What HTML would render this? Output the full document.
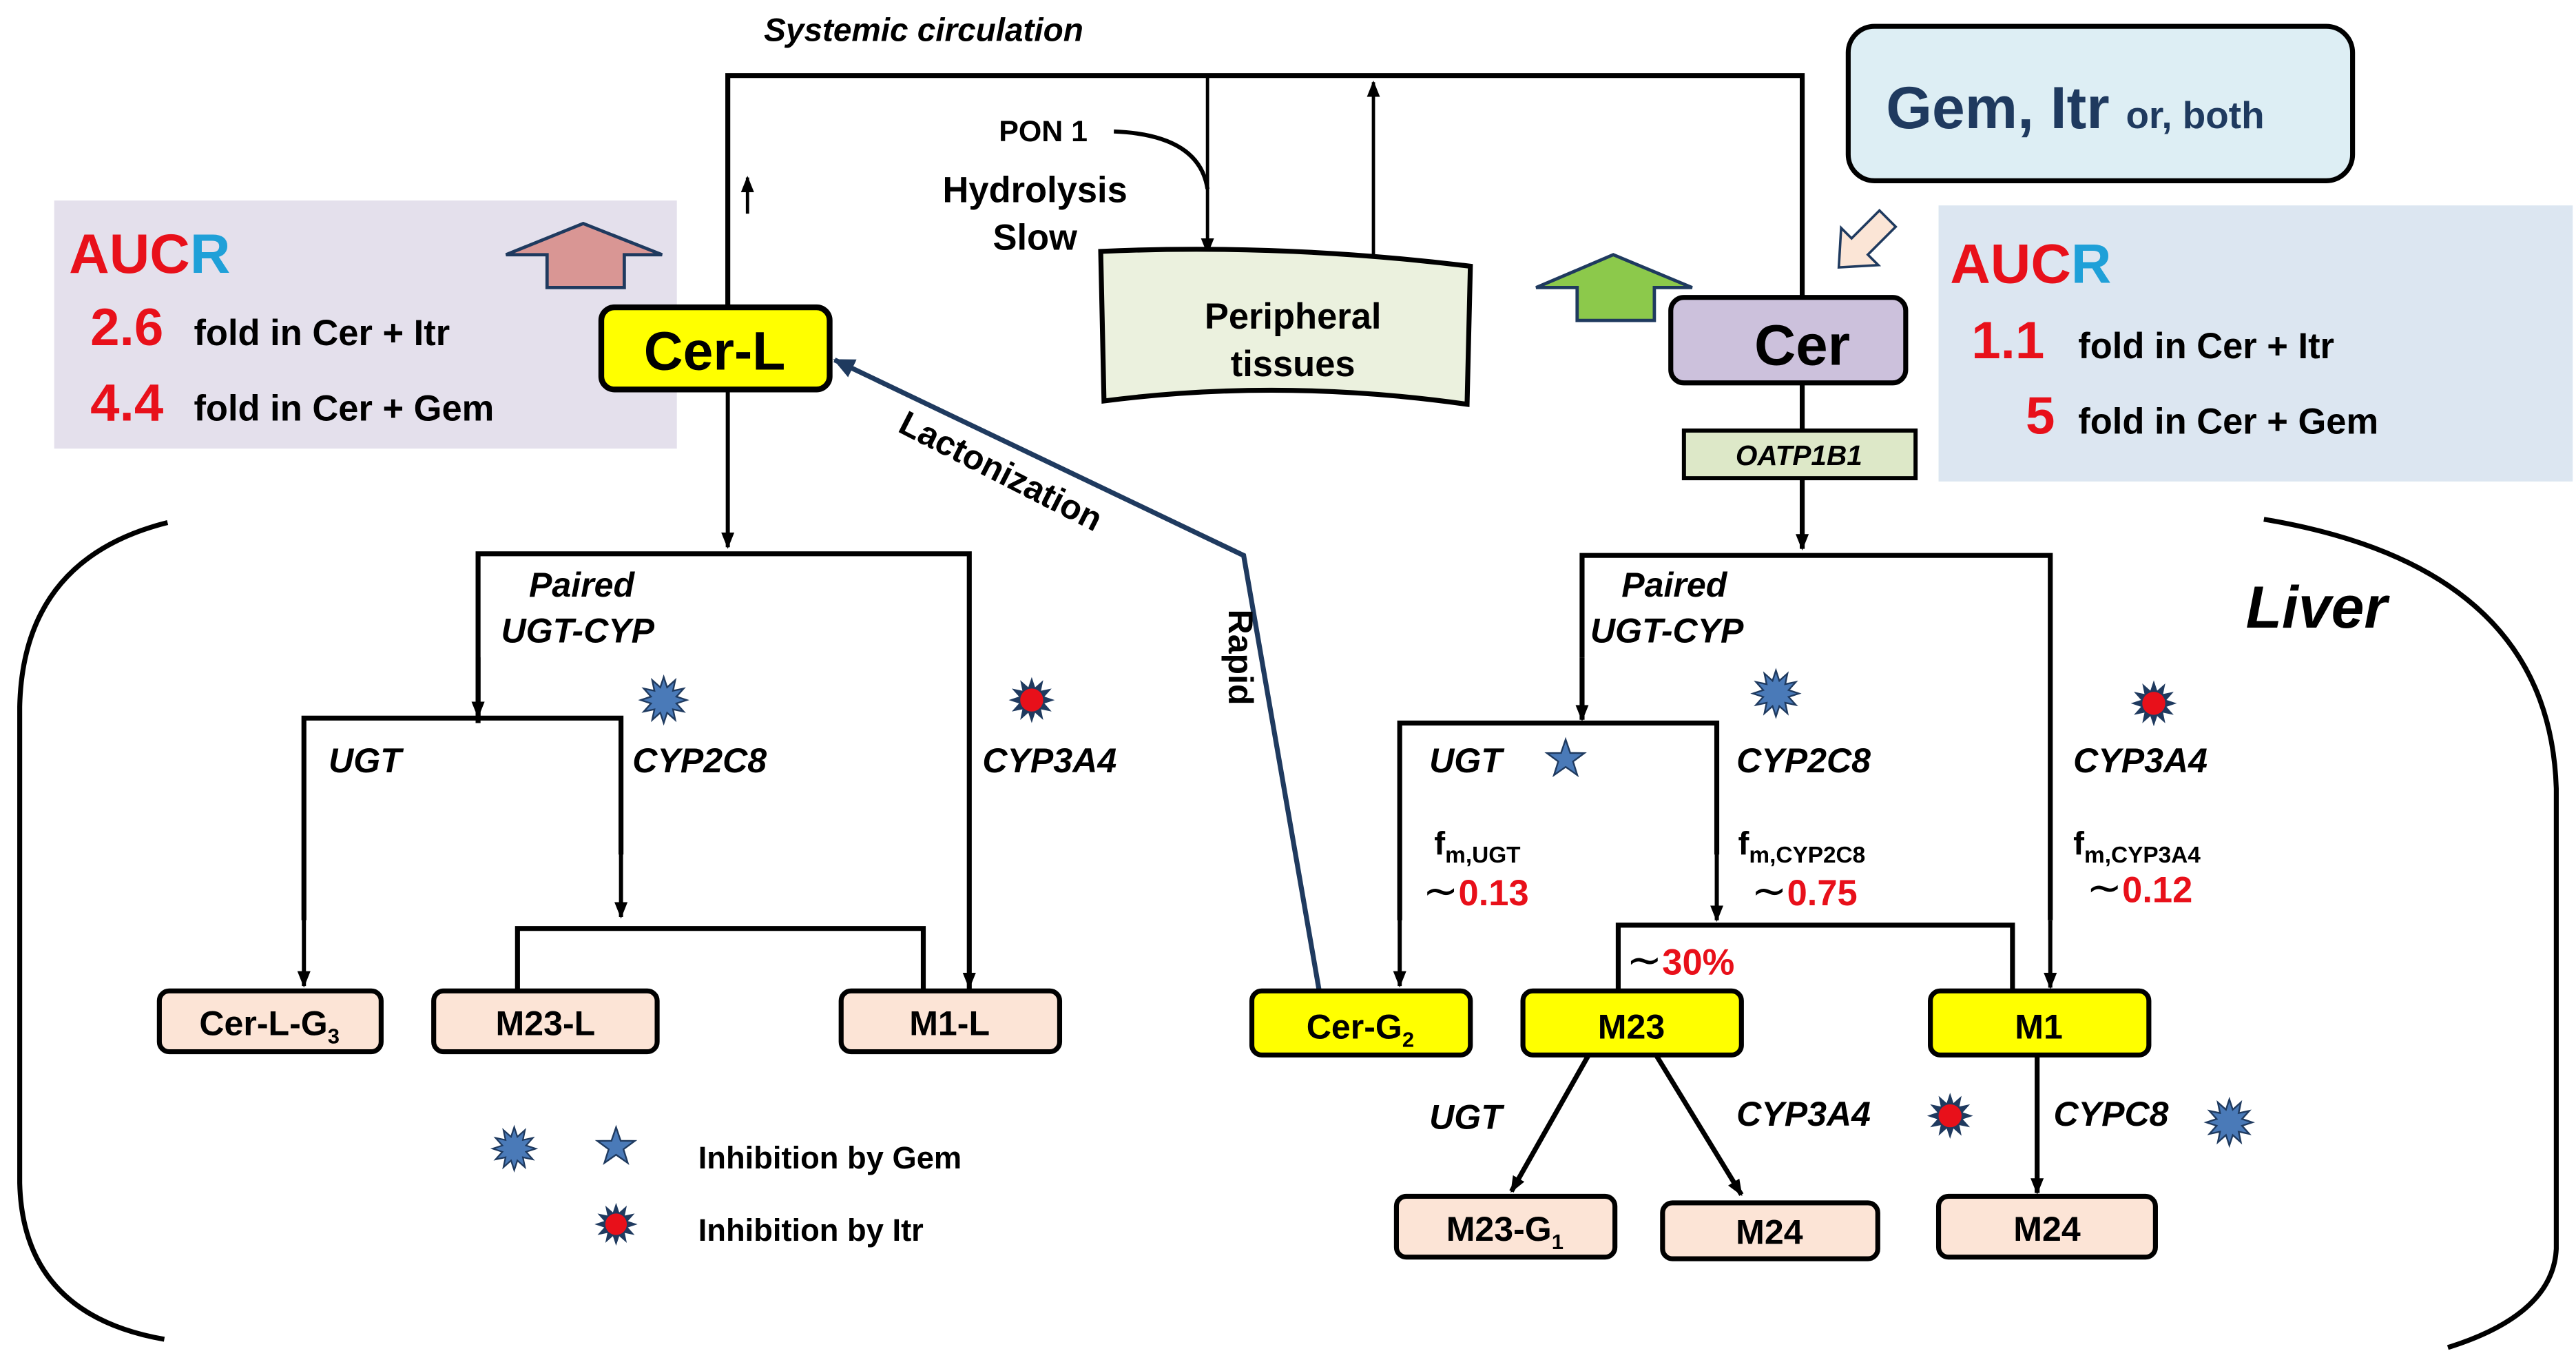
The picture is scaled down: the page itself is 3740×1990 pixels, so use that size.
<!DOCTYPE html>
<html><head><meta charset="utf-8"><style>
html,body{margin:0;padding:0;background:#fff}
svg{display:block}
text{font-family:"Liberation Sans",sans-serif;font-weight:bold}
.i{font-style:italic}
</style></head><body>
<svg width="3740" height="1990" viewBox="0 0 1568 834.3" xmlns="http://www.w3.org/2000/svg">
<defs>
<marker id="a" markerWidth="10" markerHeight="10" refX="9" refY="5" orient="auto" markerUnits="userSpaceOnUse"><path d="M0,1 L10,5 L0,9 Z" fill="#000"/></marker>
<marker id="b" markerWidth="14" markerHeight="14" refX="12" refY="7" orient="auto" markerUnits="userSpaceOnUse"><path d="M0,1 L13,7 L0,13 Z" fill="#1f3a5f"/></marker>
<symbol id="burst" viewBox="-15 -15 30 30" overflow="visible"><polygon points="14,0 7.73,2.07 12.12,7 5.66,5.66 7,12.12 2.07,7.73 0,14 -2.07,7.73 -7,12.12 -5.66,5.66 -12.12,7 -7.73,2.07 -14,0 -7.73,-2.07 -12.12,-7 -5.66,-5.66 -7,-12.12 -2.07,-7.73 0,-14 2.07,-7.73 7,-12.12 5.66,-5.66 12.12,-7 7.73,-2.07" fill="#4a7ab8" stroke="#1f3a5f" stroke-width="1"/></symbol>
<symbol id="rburst" viewBox="-15 -15 30 30" overflow="visible"><polygon points="14,0 7.73,2.07 12.12,7 5.66,5.66 7,12.12 2.07,7.73 0,14 -2.07,7.73 -7,12.12 -5.66,5.66 -12.12,7 -7.73,2.07 -14,0 -7.73,-2.07 -12.12,-7 -5.66,-5.66 -7,-12.12 -2.07,-7.73 0,-14 2.07,-7.73 7,-12.12 5.66,-5.66 12.12,-7 7.73,-2.07" fill="#1f3a5f"/><circle r="7" fill="#e8101a"/></symbol>
<symbol id="star" viewBox="-12 -12 24 24" overflow="visible"><polygon points="0,-12 2.8,-3.8 11.4,-3.7 4.5,1.4 7.1,9.7 0,4.7 -7.1,9.7 -4.5,1.4 -11.4,-3.7 -2.8,-3.8" fill="#4a7ab8" stroke="#1f3a5f" stroke-width="1"/></symbol>
</defs>

<!-- AUCR panels -->
<rect x="33" y="122" width="379" height="151" fill="#e4e0ec"/>
<rect x="1180" y="125" width="386" height="168" fill="#dce6f1"/>
<rect x="1125" y="16" width="307" height="94" rx="16" fill="#ddeef4" stroke="#000" stroke-width="3"/>
<text x="1148" y="78" font-size="36" fill="#1f3a5f">Gem, Itr <tspan font-size="23">or, both</tspan></text>

<text x="42" y="166" font-size="34" fill="#e8101a">AUC<tspan fill="#1fa0d8">R</tspan></text>
<text x="55" y="210" font-size="32" fill="#e8101a">2.6</text>
<text x="118" y="210" font-size="22" fill="#000">fold in Cer + Itr</text>
<text x="55" y="256" font-size="32" fill="#e8101a">4.4</text>
<text x="118" y="256" font-size="22" fill="#000">fold  in Cer + Gem</text>

<text x="1187" y="172" font-size="34" fill="#e8101a">AUC<tspan fill="#1fa0d8">R</tspan></text>
<text x="1200" y="218" font-size="32" fill="#e8101a">1.1</text>
<text x="1265" y="218" font-size="22" fill="#000">fold  in Cer + Itr</text>
<text x="1233" y="264" font-size="32" fill="#e8101a">5</text>
<text x="1265" y="264" font-size="22" fill="#000">fold  in Cer + Gem</text>

<!-- block arrows -->
<polygon points="308,155 355,136 403,155 380,155 380,175 333,175 333,155" fill="#d99694" stroke="#1f3a5f" stroke-width="2"/>
<polygon points="935,175 982,155 1030,175 1007,175 1007,195 960,195 960,175" fill="#8cc94b" stroke="#1f3a5f" stroke-width="2"/>
<polygon transform="translate(1132,150) rotate(45)" points="-7,-24 7,-24 7,0 16,0 0,18 -16,0 -7,0" fill="#fbe5d6" stroke="#1f3a5f" stroke-width="1.5"/>

<!-- systemic circulation -->
<text x="465" y="25" font-size="20" class="i">Systemic circulation</text>
<path d="M443,186 V46 H1097 V181" fill="none" stroke="#000" stroke-width="3"/>
<line x1="455" y1="130" x2="455" y2="108" stroke="#000" stroke-width="2" marker-end="url(#a)"/>
<line x1="735" y1="46" x2="735" y2="154" stroke="#000" stroke-width="2" marker-end="url(#a)"/>
<line x1="836" y1="165" x2="836" y2="50" stroke="#000" stroke-width="2" marker-end="url(#a)"/>
<path d="M678,80 Q730,82 735,115" fill="none" stroke="#000" stroke-width="2.5"/>
<text x="608" y="86" font-size="18">PON 1</text>
<text x="630" y="123" font-size="22" text-anchor="middle">Hydrolysis</text>
<text x="630" y="152" font-size="22" text-anchor="middle">Slow</text>
<path d="M670,153 Q780,148 895,162 L893,246 Q780,230 672,244 Z" fill="#ebf1de" stroke="#000" stroke-width="3"/>
<text x="787" y="200" font-size="22" text-anchor="middle">Peripheral</text>
<text x="787" y="229" font-size="22" text-anchor="middle">tissues</text>

<!-- Cer-L -->
<rect x="366" y="187" width="139" height="50" rx="8" fill="#ffff00" stroke="#000" stroke-width="3.5"/>
<text x="435" y="225" font-size="33" text-anchor="middle">Cer-L</text>
<!-- Cer -->
<rect x="1017" y="181" width="143" height="52" rx="8" fill="#ccc1dc" stroke="#000" stroke-width="3"/>
<text x="1097" y="222" font-size="35" text-anchor="middle">Cer</text>
<line x1="1097" y1="233" x2="1097" y2="262" stroke="#000" stroke-width="3"/>
<rect x="1025" y="262" width="141" height="29" fill="#dde8c8" stroke="#000" stroke-width="2.5"/>
<text x="1095" y="283" font-size="17" text-anchor="middle" class="i">OATP1B1</text>
<line x1="1097" y1="291" x2="1097" y2="334" stroke="#000" stroke-width="3" marker-end="url(#a)"/>

<!-- liver brackets -->
<path d="M102,318 Q14,340 12,430 V720 Q14,800 100,815" fill="none" stroke="#000" stroke-width="3"/>
<path d="M1378,316 Q1552,345 1556,480 V760 Q1554,800 1490,820" fill="none" stroke="#000" stroke-width="3"/>
<text x="1367" y="382" font-size="36" class="i">Liver</text>

<!-- left tree -->
<line x1="443" y1="237" x2="443" y2="333" stroke="#000" stroke-width="2.5" marker-end="url(#a)"/>
<path d="M291,440 V337 H590 V602" fill="none" stroke="#000" stroke-width="3"/>
<line x1="291" y1="400" x2="291" y2="436" stroke="#000" stroke-width="3" marker-end="url(#a)"/>
<line x1="590" y1="560" x2="590" y2="601" stroke="#000" stroke-width="2.5" marker-end="url(#a)"/>
<path d="M185,560 V437 H378 V520" fill="none" stroke="#000" stroke-width="3"/>
<line x1="185" y1="520" x2="185" y2="600" stroke="#000" stroke-width="2.5" marker-end="url(#a)"/>
<line x1="378" y1="510" x2="378" y2="558" stroke="#000" stroke-width="2.5" marker-end="url(#a)"/>
<path d="M315,603 V565 H562 V603" fill="none" stroke="#000" stroke-width="3"/>
<text x="322" y="363" font-size="21" class="i">Paired</text>
<text x="305" y="391" font-size="21" class="i">UGT-CYP</text>
<use href="#burst" x="389" y="411" width="30" height="30"/>
<use href="#rburst" x="613" y="411" width="30" height="30"/>
<text x="200" y="470" font-size="21" class="i">UGT</text>
<text x="385" y="470" font-size="21" class="i">CYP2C8</text>
<text x="598" y="470" font-size="21" class="i">CYP3A4</text>
<rect x="97" y="603" width="135" height="37" rx="6" fill="#fce4d6" stroke="#000" stroke-width="3"/>
<text x="164" y="630" font-size="21" text-anchor="middle">Cer-L-G<tspan font-size="13" dy="5">3</tspan></text>
<rect x="264" y="603" width="136" height="37" rx="6" fill="#fce4d6" stroke="#000" stroke-width="3"/>
<text x="332" y="630" font-size="21" text-anchor="middle">M23-L</text>
<rect x="512" y="603" width="133" height="37" rx="6" fill="#fce4d6" stroke="#000" stroke-width="3"/>
<text x="578" y="630" font-size="21" text-anchor="middle">M1-L</text>

<!-- lactonization -->
<polyline points="803,603 757,338 508,219" fill="none" stroke="#1f3a5f" stroke-width="3" marker-end="url(#b)"/>
<text x="606" y="293" font-size="21" text-anchor="middle" transform="rotate(27 606 293)">Lactonization</text>
<text x="748" y="400" font-size="21" text-anchor="middle" transform="rotate(90 748 400)">Rapid</text>

<!-- right tree -->
<path d="M963,400 V338 H1248 V560" fill="none" stroke="#000" stroke-width="3"/>
<line x1="963" y1="400" x2="963" y2="438" stroke="#000" stroke-width="3" marker-end="url(#a)"/>
<line x1="1248" y1="560" x2="1248" y2="601" stroke="#000" stroke-width="2.5" marker-end="url(#a)"/>
<path d="M852,560 V440 H1045 V520" fill="none" stroke="#000" stroke-width="3"/>
<line x1="852" y1="520" x2="852" y2="600" stroke="#000" stroke-width="2.5" marker-end="url(#a)"/>
<line x1="1045" y1="510" x2="1045" y2="560" stroke="#000" stroke-width="2.5" marker-end="url(#a)"/>
<path d="M985,603 V563 H1225 V603" fill="none" stroke="#000" stroke-width="3"/>
<text x="987" y="363" font-size="21" class="i">Paired</text>
<text x="968" y="391" font-size="21" class="i">UGT-CYP</text>
<use href="#burst" x="1066" y="407" width="30" height="30"/>
<use href="#rburst" x="1296" y="413" width="30" height="30"/>
<text x="870" y="470" font-size="21" class="i">UGT</text>
<use href="#star" x="941" y="450" width="24" height="24"/>
<text x="1057" y="470" font-size="21" class="i">CYP2C8</text>
<text x="1262" y="470" font-size="21" class="i">CYP3A4</text>
<text x="873" y="520" font-size="20" font-weight="normal">f<tspan font-size="14" dy="5">m,UGT</tspan></text>
<text x="866" y="551" font-size="22"><tspan font-weight="normal" font-size="26">∼</tspan><tspan fill="#e8101a">0.13</tspan></text>
<text x="1058" y="520" font-size="20" font-weight="normal">f<tspan font-size="14" dy="5">m,CYP2C8</tspan></text>
<text x="1066" y="551" font-size="22"><tspan font-weight="normal" font-size="26">∼</tspan><tspan fill="#e8101a">0.75</tspan></text>
<text x="1262" y="520" font-size="20" font-weight="normal">f<tspan font-size="14" dy="5">m,CYP3A4</tspan></text>
<text x="1270" y="549" font-size="22"><tspan font-weight="normal" font-size="26">∼</tspan><tspan fill="#e8101a">0.12</tspan></text>
<text x="990" y="593" font-size="22"><tspan font-weight="normal" font-size="26">∼</tspan><tspan fill="#e8101a">30%</tspan></text>

<rect x="762" y="603" width="133" height="39" rx="6" fill="#ffff00" stroke="#000" stroke-width="3"/>
<text x="828" y="632" font-size="21" text-anchor="middle">Cer-G<tspan font-size="13" dy="5">2</tspan></text>
<rect x="927" y="603" width="133" height="39" rx="6" fill="#ffff00" stroke="#000" stroke-width="3"/>
<text x="993" y="632" font-size="21" text-anchor="middle">M23</text>
<rect x="1175" y="603" width="133" height="39" rx="6" fill="#ffff00" stroke="#000" stroke-width="3"/>
<text x="1241" y="632" font-size="21" text-anchor="middle">M1</text>

<line x1="967" y1="642" x2="920" y2="725" stroke="#000" stroke-width="3" marker-end="url(#a)"/>
<line x1="1008" y1="642" x2="1060" y2="727" stroke="#000" stroke-width="3" marker-end="url(#a)"/>
<line x1="1240" y1="642" x2="1240" y2="726" stroke="#000" stroke-width="3" marker-end="url(#a)"/>
<text x="870" y="687" font-size="21" class="i">UGT</text>
<text x="1057" y="685" font-size="21" class="i">CYP3A4</text>
<use href="#rburst" x="1172" y="664" width="30" height="30"/>
<text x="1250" y="685" font-size="21" class="i">CYPC8</text>
<use href="#burst" x="1342" y="668" width="30" height="30"/>

<rect x="850" y="728" width="133" height="37" rx="6" fill="#fce4d6" stroke="#000" stroke-width="3"/>
<text x="916" y="755" font-size="21" text-anchor="middle">M23-G<tspan font-size="13" dy="5">1</tspan></text>
<rect x="1012" y="732" width="131" height="34" rx="6" fill="#fce4d6" stroke="#000" stroke-width="3"/>
<text x="1077" y="757" font-size="21" text-anchor="middle">M24</text>
<rect x="1180" y="728" width="132" height="37" rx="6" fill="#fce4d6" stroke="#000" stroke-width="3"/>
<text x="1246" y="755" font-size="21" text-anchor="middle">M24</text>

<!-- legend -->
<use href="#burst" x="299" y="685" width="28" height="28"/>
<use href="#star" x="363" y="686" width="24" height="24"/>
<text x="425" y="711" font-size="19">Inhibition by Gem</text>
<use href="#rburst" x="361" y="731" width="28" height="28"/>
<text x="425" y="755" font-size="19">Inhibition by Itr</text>
</svg>
</body></html>
